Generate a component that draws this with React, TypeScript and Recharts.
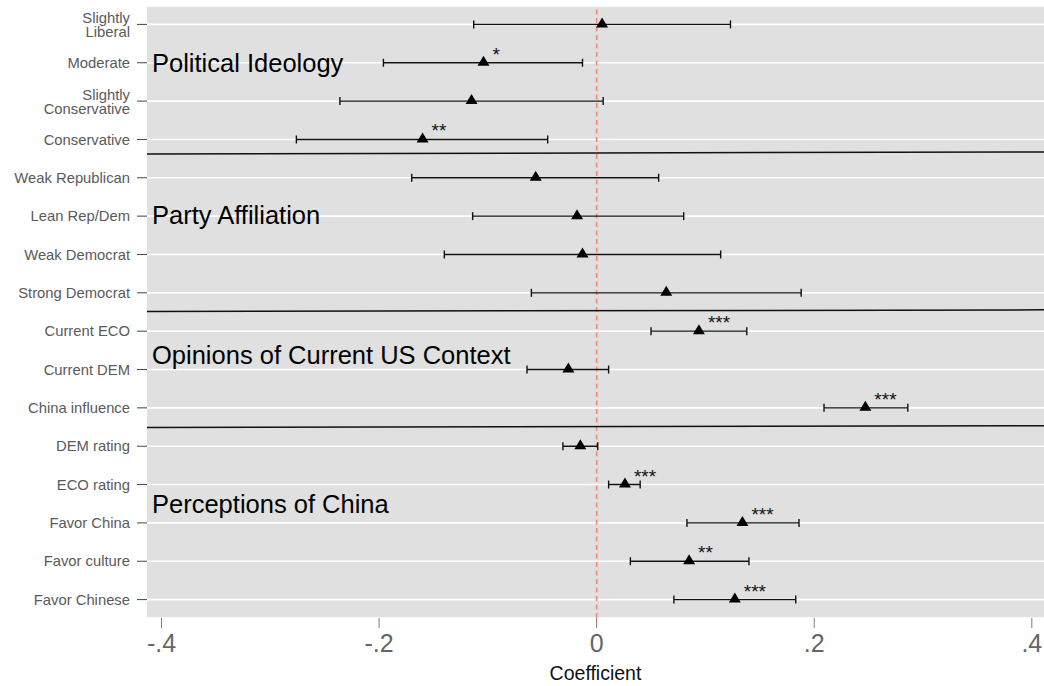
import React from 'react';
import {
  ScatterChart, Scatter, XAxis, YAxis, CartesianGrid, ErrorBar, ReferenceLine,
} from 'recharts';

const categories = [
  'Slightly Liberal', 'Moderate', 'Slightly Conservative', 'Conservative',
  'Weak Republican', 'Lean Rep/Dem', 'Weak Democrat', 'Strong Democrat',
  'Current ECO', 'Current DEM', 'China influence',
  'DEM rating', 'ECO rating', 'Favor China', 'Favor culture', 'Favor Chinese',
];
const estimates = [0.005, -0.104, -0.115, -0.160, -0.056, -0.018, -0.013, 0.064, 0.094, -0.026, 0.247, -0.015, 0.026, 0.134, 0.085, 0.127];
const ciLow = [-0.113, -0.196, -0.236, -0.276, -0.170, -0.114, -0.140, -0.060, 0.050, -0.064, 0.209, -0.031, 0.011, 0.083, 0.031, 0.071];
const ciHigh = [0.123, -0.013, 0.006, -0.045, 0.057, 0.080, 0.114, 0.188, 0.138, 0.011, 0.286, 0.001, 0.040, 0.186, 0.140, 0.183];
const stars = ['', '*', '', '**', '', '', '', '', '***', '', '***', '', '***', '***', '**', '***'];

const xTicks = [-0.4, -0.2, 0, 0.2, 0.4];
const xTickLabels = ['-.4', '-.2', '0', '.2', '.4'];

// group titles and the slanted separators, in axis units
const groupNames = ['Political Ideology', 'Party Affiliation', 'Opinions of Current US Context', 'Perceptions of China'];
const groupRows = [2.235, 6.21, 9.86, 13.74];
const separators = [[4.379, 4.327], [8.488, 8.444], [11.51, 11.466]];

const X_MIN = -0.4133;
const X_MAX = 0.4112;
const FONT = '"Liberation Sans", Arial, Helvetica, sans-serif';

const rows = categories.map((c, i) => ({
  y: i + 1,
  x: estimates[i],
  err: [estimates[i] - ciLow[i], ciHigh[i] - estimates[i]],
  stars: stars[i],
}));

const groups = groupNames.map((g, i) => ({ x: X_MIN, y: groupRows[i], name: g }));

const Triangle = (props: any) => {
  const { cx, cy, payload } = props;
  return (
    <g>
      <path d={`M${cx},${cy - 7} L${cx + 6},${cy + 3} L${cx - 6},${cy + 3} Z`} fill="#000" />
      {payload.stars ? (
        <text x={cx + 9} y={cy - 2} fontSize={19} fontFamily={FONT} fill="#111">
          {payload.stars}
        </text>
      ) : null}
    </g>
  );
};

const GroupLabel = (props: any) => {
  const { cx, cy, payload } = props;
  return (
    <text x={cx + 5} y={cy} fontSize={25.5} fontFamily={FONT} fill="#000">
      {payload.name}
    </text>
  );
};

const YTick = (props: any) => {
  const { x, y, payload } = props;
  const label = categories[payload.value - 1] || '';
  if (label.startsWith('Slightly ')) {
    return (
      <text x={x} y={y} textAnchor="end" fontSize={14.8} fontFamily={FONT} fill="#5a5a5a">
        <tspan x={x} dy={-1.5}>Slightly</tspan>
        <tspan x={x} dy={14.5}>{label.slice(9)}</tspan>
      </text>
    );
  }
  return (
    <text x={x} y={y} dy={5.2} textAnchor="end" fontSize={14.8} fontFamily={FONT} fill="#5a5a5a">
      {label}
    </text>
  );
};

export default function App() {
  return (
    <div style={{ position: 'absolute', left: 0, top: 0, width: 1044, height: 686, background: '#fff' }}>
      <ScatterChart width={1044} height={686} margin={{ top: 6, right: 0, bottom: 0, left: 0 }}>
        <CartesianGrid vertical={false} stroke="#ffffff" strokeWidth={1.6} fill="#e0e0e0" />
        <XAxis
          type="number"
          dataKey="x"
          domain={[X_MIN, X_MAX]}
          allowDataOverflow
          ticks={xTicks}
          tickFormatter={(v: number) => xTickLabels[xTicks.indexOf(v)] ?? String(v)}
          axisLine={false}
          tickLine={{ stroke: '#7a7a7a', strokeWidth: 1 }}
          tickSize={10}
          tickMargin={6}
          tick={{ fontSize: 25, fill: '#666', fontFamily: FONT }}
          height={68}
          label={{ value: 'Coefficient', position: 'insideBottom', offset: 6, fontSize: 19.5, fill: '#111', fontFamily: FONT }}
        />
        <YAxis
          type="number"
          dataKey="y"
          domain={[0.52, 16.48]}
          reversed
          allowDataOverflow
          ticks={categories.map((_, i) => i + 1)}
          interval={0}
          axisLine={false}
          tickLine={{ stroke: '#444', strokeWidth: 1 }}
          tickSize={10}
          tickMargin={7}
          tick={<YTick />}
          width={147}
        />
        <ReferenceLine x={0} stroke="#f0877f" strokeWidth={1.6} strokeDasharray="5 3.5" />
        {separators.map((s, i) => (
          <ReferenceLine
            key={i}
            segment={[{ x: X_MIN, y: s[0] }, { x: X_MAX, y: s[1] }]}
            stroke="#111"
            strokeWidth={1.5}
            ifOverflow="visible"
          />
        ))}
        <Scatter data={groups} shape={<GroupLabel />} isAnimationActive={false} />
        <Scatter data={rows} shape={<Triangle />} isAnimationActive={false}>
          <ErrorBar dataKey="err" direction="x" width={4} stroke="#111" strokeWidth={1.4} />
        </Scatter>
      </ScatterChart>
    </div>
  );
}
